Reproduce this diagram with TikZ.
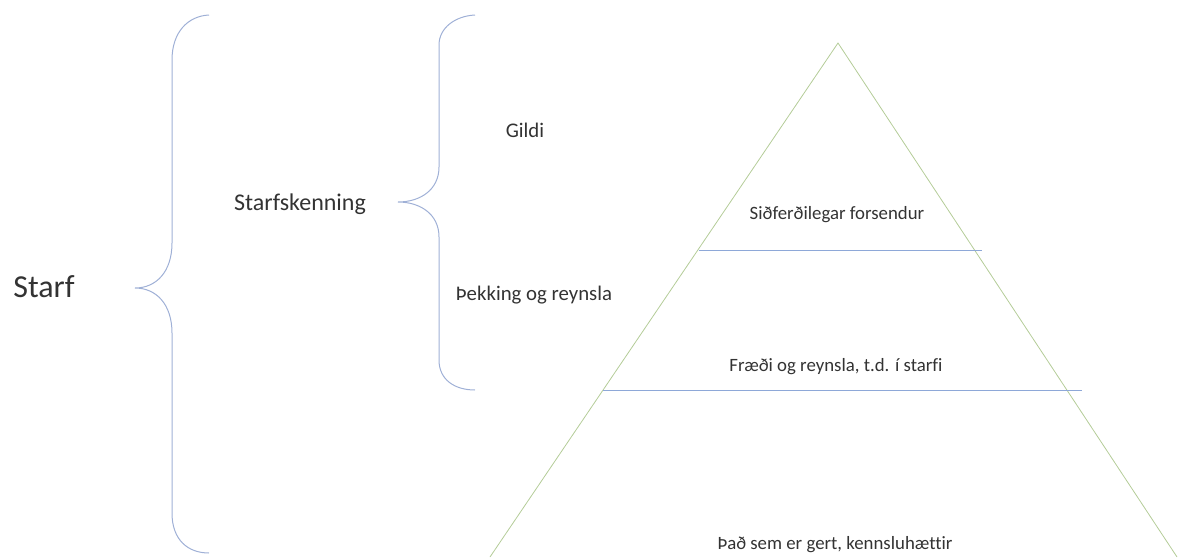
\documentclass[tikz,border=0pt]{standalone}
\usepackage{fontspec}
\setmainfont[Ligatures=NoCommon]{Carlito}
\definecolor{bracecol}{HTML}{9FB0D6}
\definecolor{pyrcol}{HTML}{B4CC98}
\definecolor{bandcol}{HTML}{8EA8D8}
\definecolor{txtcol}{HTML}{333333}
\begin{document}
\begin{tikzpicture}[x=1pt,y=-1pt,
  brace/.style={draw=bracecol,line width=1pt},
  pyr/.style={draw=pyrcol,line width=0.8pt},
  band/.style={draw=bandcol,line width=1pt},
  lbl/.style={text=txtcol,inner sep=0pt,anchor=center},
  big/.style={lbl,font=\fontsize{32}{38}\selectfont},
  mid/.style={lbl,font=\fontsize{24}{29}\selectfont},
  small/.style={lbl,font=\fontsize{20.8}{25}\selectfont},
  tiny/.style={lbl,font=\fontsize{18.8}{23}\selectfont}]
\useasboundingbox (0,0) rectangle (1188,557);
% big brace
\draw[brace] (209,15) .. controls (188,16) and (172,32) .. (172,60)
  -- (172,243) .. controls (172,272) and (156,288) .. (135,288)
  .. controls (156,288) and (172,304) .. (172,333)
  -- (172,513) .. controls (172,540) and (188,553) .. (209,553);
% small brace
\draw[brace] (475,15) .. controls (455,16) and (439,28) .. (439,45)
  -- (439,167) .. controls (439,190) and (420,202) .. (398,202)
  .. controls (420,202) and (439,214) .. (439,237)
  -- (439,360) .. controls (439,380) and (455,390) .. (475,390);
% pyramid
\coordinate (apex) at (838,43);
\coordinate (bl) at (490,557);
\coordinate (br) at (1177,557);
\draw[pyr] (bl) -- (apex) -- (br);
\coordinate (l1a) at (699,250);
\coordinate (l1b) at (982,250);
\coordinate (l2a) at (603,390);
\coordinate (l2b) at (1082,390);
\draw[band] (l1a) -- (l1b);
\draw[band] (l2a) -- (l2b);
% labels
\node[big] (starf) at (44,287) {Starf};
\node[mid] (skenn) at (300,204) {Starfskenning};
\node[small] (gildi) at (525,130) {Gildi};
\node[small] (thekk) at (534,295) {Þekking og reynsla};
\node[tiny] (sidf) at (837,215) {Siðferðilegar forsendur};
\node[tiny] (fraedi) at (836,367) {Fræði og reynsla, t.d. í starfi};
\node[tiny] (thad) at (835,545) {Það sem er gert, kennsluhættir};
\end{tikzpicture}
\end{document}
